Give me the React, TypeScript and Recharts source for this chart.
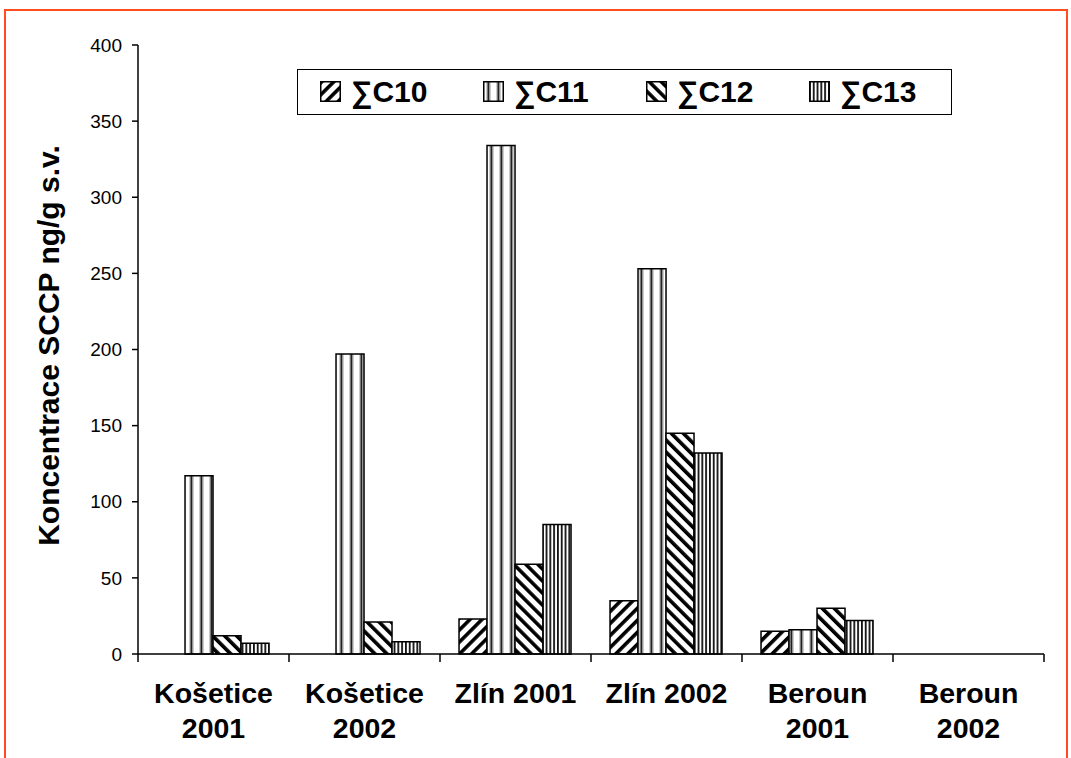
import { Bar, BarChart, Legend, XAxis, YAxis } from 'recharts';

const sites = ['Košetice 2001', 'Košetice 2002', 'Zlín 2001', 'Zlín 2002', 'Beroun 2001', 'Beroun 2002'];
const c10 = [null, null, 23, 35, 15, null];
const c11 = [117, 197, 334, 253, 16, null];
const c12 = [12, 21, 59, 145, 30, null];
const c13 = [7, 8, 85, 132, 22, null];
const yTicks = [0, 50, 100, 150, 200, 250, 300, 350, 400];
const seriesKeys = ['c10', 'c11', 'c12', 'c13'];
const seriesNames = ['∑C10', '∑C11', '∑C12', '∑C13'];

const data = sites.map((site, i) => ({ site, c10: c10[i], c11: c11[i], c12: c12[i], c13: c13[i] }));

const font = '"Liberation Sans", Arial, sans-serif';

function SiteTick(props: any) {
  const { x, y, payload, index, width, visibleTicksCount } = props;
  const half = payload.offset ?? width / visibleTicksCount / 2;
  const label = String(payload.value);
  // long names wrap onto two lines, short ones stay on one
  const lines = label.length > 10 ? [label.slice(0, label.lastIndexOf(' ')), label.slice(label.lastIndexOf(' ') + 1)] : [label];
  return (
    <g>
      <line x1={x - half} x2={x - half} y1={y} y2={y + 8} stroke="#000" strokeWidth={1.5} />
      {index === visibleTicksCount - 1 && (
        <line x1={x + half} x2={x + half} y1={y} y2={y + 8} stroke="#000" strokeWidth={1.5} />
      )}
      {lines.map((t, i) => (
        <text
          key={i}
          x={x}
          y={y + 49 + i * 35}
          textAnchor="middle"
          fontFamily={font}
          fontWeight="bold"
          fontSize={28.5}
          fill="#000"
        >
          {t}
        </text>
      ))}
    </g>
  );
}

function YLabel(props: any) {
  const { viewBox } = props;
  const cx = viewBox.x + 42;
  const cy = viewBox.y + viewBox.height / 2 - 4;
  return (
    <text
      x={cx}
      y={cy}
      transform={`rotate(-90 ${cx} ${cy})`}
      textAnchor="middle"
      dominantBaseline="central"
      fontFamily={font}
      fontWeight="bold"
      fontSize={30}
      fill="#000"
    >
      Koncentrace SCCP ng/g s.v.
    </text>
  );
}

function LegendBox() {
  return (
    <div
      style={{
        position: 'relative',
        width: 655,
        height: 46,
        boxSizing: 'border-box',
        border: '1.5px solid #000',
        background: '#fff',
        fontFamily: font,
      }}
    >
      {seriesKeys.map((k, i) => (
        <div
          key={k}
          style={{ position: 'absolute', left: 22 + i * 163, top: 0, height: 43, display: 'flex', alignItems: 'center' }}
        >
          <svg width={21} height={21} style={{ display: 'block' }}>
            <rect x={0.75} y={0.75} width={19.5} height={19.5} fill={`url(#pat-${k})`} stroke="#000" strokeWidth={1.5} />
          </svg>
          <span style={{ marginLeft: 10, fontSize: 30, fontWeight: 'bold', color: '#000', lineHeight: '30px' }}>
            {seriesNames[i]}
          </span>
        </div>
      ))}
    </div>
  );
}

export default function App() {
  return (
    <div
      style={{
        position: 'absolute',
        left: 4,
        top: 9,
        width: 1060,
        height: 760,
        border: '2px solid #ff4d1f',
        background: '#fff',
      }}
    >
      <BarChart
        width={1060}
        height={747}
        data={data}
        margin={{ top: 34, right: 22, left: 0, bottom: 14 }}
        barCategoryGap="12.6%"
        barGap={0}
      >
        <defs>
          <pattern id="pat-c10" width={8.5} height={8.5} patternUnits="userSpaceOnUse" patternTransform="rotate(45)">
            <rect width={8.5} height={8.5} fill="#fff" />
            <rect x={0} y={0} width={3.6} height={8.5} fill="#000" />
          </pattern>
          <pattern id="pat-c11" width={10} height={10} patternUnits="userSpaceOnUse">
            <rect width={10} height={10} fill="#fff" />
            <rect x={3.5} y={0} width={1} height={10} fill="#999" />
            <rect x={4.5} y={0} width={2} height={10} fill="#222" />
            <rect x={6.5} y={0} width={1} height={10} fill="#999" />
          </pattern>
          <pattern id="pat-c12" width={8.5} height={8.5} patternUnits="userSpaceOnUse" patternTransform="rotate(-45)">
            <rect width={8.5} height={8.5} fill="#fff" />
            <rect x={0} y={0} width={3.6} height={8.5} fill="#000" />
          </pattern>
          <pattern id="pat-c13" width={3.8} height={10} patternUnits="userSpaceOnUse">
            <rect width={3.8} height={10} fill="#fff" />
            <rect x={0} y={0} width={1.8} height={10} fill="#111" />
          </pattern>
        </defs>
        <XAxis
          xAxisId="top"
          orientation="top"
          dataKey="site"
          height={0}
          tick={false}
          tickLine={false}
          axisLine={{ stroke: '#808080', strokeWidth: 1.5 }}
        />
        <XAxis
          dataKey="site"
          height={90}
          tickLine={false}
          tickSize={0}
          tickMargin={0}
          axisLine={{ stroke: '#000', strokeWidth: 1.5 }}
          tick={<SiteTick />}
          interval={0}
        />
        <YAxis
          width={132}
          domain={[0, 400]}
          ticks={yTicks}
          tickSize={6}
          tickMargin={10}
          tick={{ fontSize: 19, fill: '#000', fontFamily: font }}
          tickLine={{ stroke: '#000', strokeWidth: 1.5 }}
          axisLine={{ stroke: '#000', strokeWidth: 1.5 }}
          label={{ content: <YLabel /> }}
        />
        <YAxis
          yAxisId="right"
          orientation="right"
          width={0}
          domain={[0, 400]}
          tick={false}
          tickLine={false}
          axisLine={{ stroke: '#808080', strokeWidth: 1.5 }}
        />
        <Legend
          layout="horizontal"
          verticalAlign="middle"
          align="center"
          wrapperStyle={{ top: 58, left: 291, width: 655, height: 46 }}
          content={() => <LegendBox />}
        />
        {seriesKeys.map((k, i) => (
          <Bar
            key={k}
            dataKey={k}
            name={seriesNames[i]}
            fill={`url(#pat-${k})`}
            stroke="#000"
            strokeWidth={1.5}
            isAnimationActive={false}
          />
        ))}
      </BarChart>
    </div>
  );
}
